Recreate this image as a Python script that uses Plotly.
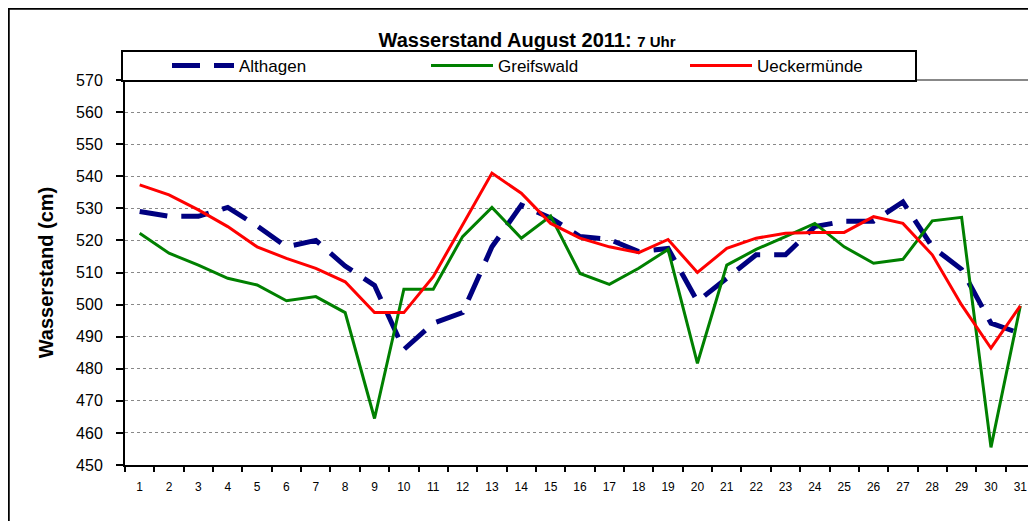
import plotly.graph_objects as go

days = [str(d) for d in range(1, 32)]

althagen = [529, 527.5, 527.5, 530.3, 524.5, 518, 520, 512, 506, 486, 494.2, 497.5, 518, 531, 527,
            521.2, 520.3, 516.5, 517.5, 501, 508.2, 515.5, 515.5, 524.3, 526, 526, 532, 518, 511, 494.2, 491]
greifswald = [522.2, 516, 512.3, 508.2, 506.1, 501.2, 502.5, 497.5, 464.5, 504.8, 504.8, 521.2, 530.3, 520.7, 527.6,
              509.7, 506.3, 511.3, 517.2, 481.7, 512.3, 517.2, 521.2, 525.3, 518, 512.9, 514.1, 526.1, 527.2, 455.5, 499.6]
ueckermuende = [537.3, 534.2, 529.5, 524.3, 518, 514.4, 511.3, 507.1, 497.5, 497.5, 508.7, 525, 541, 534.7, 525.3,
                520.7, 518, 516.2, 520.3, 510, 517.5, 520.7, 522.2, 522.5, 522.5, 527.4, 525.3, 515.5, 499.9, 486.4, 499.6]

y_ticks = list(range(450, 571, 10))

fig = go.Figure()
fig.add_trace(go.Scatter(x=days, y=althagen, name="Althagen", mode="lines",
                         line=dict(color="#000080", width=5, dash="28px,14px")))
fig.add_trace(go.Scatter(x=days, y=greifswald, name="Greifswald", mode="lines",
                         line=dict(color="#008000", width=3)))
fig.add_trace(go.Scatter(x=days, y=ueckermuende, name="Ueckermünde", mode="lines",
                         line=dict(color="#FF0000", width=3)))

font_family = "Liberation Sans, Arial, sans-serif"

# figure is drawn 8px in from the page corner (body margin)
W, H = 1028, 513
L, T, PW, PH = 117, 72, 910, 385

fig.update_layout(
    width=W, height=H,
    margin=dict(l=L, r=W - L - PW, t=T, b=H - T - PH, autoexpand=False),
    paper_bgcolor="white", plot_bgcolor="white",
    font=dict(family=font_family, color="black"),
    title=dict(text="<b>Wasserstand August 2011: <span style='font-size:15px'>7 Uhr</span></b>",
               x=519 / W, xref="container", xanchor="center",
               y=1 - 32 / H, yref="container", yanchor="middle",
               font=dict(size=20, family=font_family, color="black")),
    legend=dict(orientation="h", x=(114 + 45 - L) / PW, xanchor="left",
                y=1 + (T - 58) / PH, yanchor="middle",
                borderwidth=0, bgcolor="rgba(0,0,0,0)",
                font=dict(size=17, family=font_family),
                entrywidth=182, entrywidthmode="pixels", itemwidth=62,
                traceorder="normal"),
    showlegend=True,
)

fig.update_xaxes(type="category", range=[-0.5, 30.5], tickson="boundaries", ticks="outside", ticklen=5,
                 tickwidth=2, tickcolor="black", showline=True, linecolor="black", linewidth=2,
                 showgrid=False, tickfont=dict(size=12), ticklabelstandoff=10, zeroline=False)
fig.update_yaxes(range=[450, 570], tickvals=y_ticks, ticks="outside", ticklen=7, tickwidth=2,
                 tickcolor="black", showline=True, linecolor="black", linewidth=2,
                 showgrid=True, gridcolor="#888888", griddash="dot", gridwidth=1,
                 tickfont=dict(size=16), ticklabelstandoff=10, zeroline=False,
                 title=dict(text="<b>Wasserstand (cm)</b>", font=dict(size=20), standoff=17))

# plot-area top border
fig.add_shape(type="line", xref="paper", yref="paper", x0=0, x1=1, y0=1, y1=1,
              line=dict(color="#888888", width=2), layer="below")
# legend frame
fig.add_shape(type="rect", xref="paper", yref="paper",
              x0=(114 - L) / PW, x1=(908 - L) / PW, y0=1 + (T - 73) / PH, y1=1 + (T - 43) / PH,
              line=dict(color="black", width=2), fillcolor="white", layer="above")
# outer chart border
fig.add_shape(type="rect", xref="paper", yref="paper",
              x0=(0.5 - L) / PW, x1=1.05, y0=(PH + T - 530) / PH, y1=1 + (T - 0.5) / PH,
              line=dict(color="black", width=2.5))

fig.write_html("out.html")
